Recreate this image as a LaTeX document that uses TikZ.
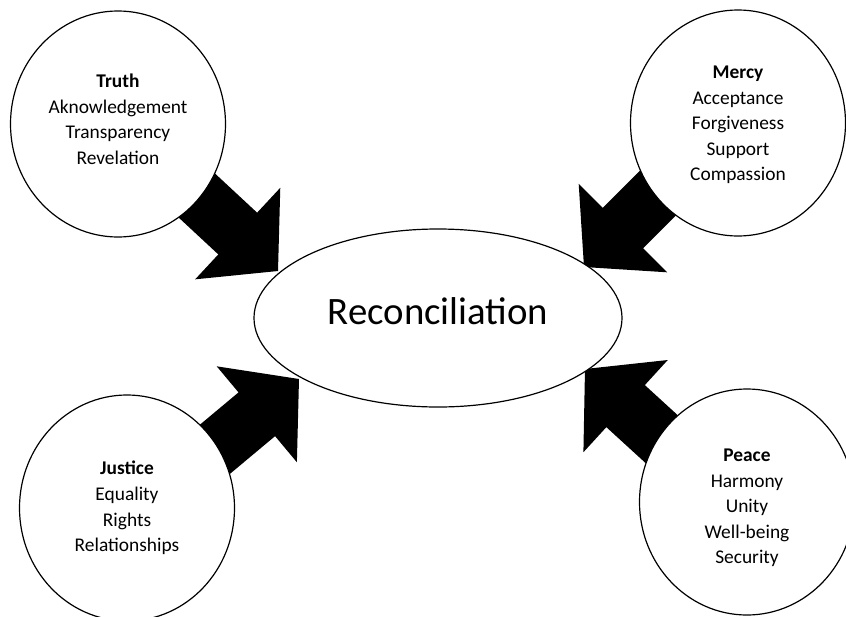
\documentclass[tikz,border=0pt]{standalone}
\usepackage{fontspec}
\setmainfont{Carlito}
\usetikzlibrary{shapes.geometric,arrows.meta,backgrounds}

\begin{document}
\begin{tikzpicture}[x=1pt, y=-1pt,
    pillar/.style={draw, ellipse, fill=white, line width=1.2pt,
      minimum width=215pt, minimum height=226pt, inner sep=0pt,
      align=center, font=\fontsize{19.4}{25.6}\selectfont},
    push/.style={line width=57pt, line cap=rect,
      -{Triangle[length=55pt, width=125pt, line width=0pt]}}]

    \useasboundingbox (0,0) rectangle (846,616);
    \clip (0,0) rectangle (846,616);

    % the four circles and the goal in the middle
    \node [draw, ellipse, fill=white, line width=1.2pt, inner sep=0pt,
      minimum width=368pt, minimum height=178pt, text depth=14pt,
      font=\fontsize{38.8}{40}\selectfont] (recon) at (438,318) {Reconciliation};

    \node [pillar] (truth) at (118,124)
      {\textbf{Truth}\\Aknowledgement\\Transparency\\Revelation\rule[-10pt]{0pt}{10pt}};
    \node [pillar] (mercy) at (738,123)
      {\rule{0pt}{16.5pt}\textbf{Mercy}\\Acceptance\\Forgiveness\\Support\\Compassion};
    \node [pillar] (justice) at (127,508)
      {\textbf{Justice}\\Equality\\Rights\\Relationships};
    \node [pillar] (peace) at (747,502)
      {\rule{0pt}{24.5pt}\textbf{Peace}\\Harmony\\Unity\\Well-being\\Security};

    % block arrows, tails hidden under the circles
    \coordinate (truthTail) at (150,152);
    \coordinate (truthTip) at (278,271);
    \coordinate (mercyTail) at (708,143);
    \coordinate (mercyTip) at (584,267);
    \coordinate (justiceTail) at (165,491);
    \coordinate (justiceTip) at (299,379);
    \coordinate (peaceTail) at (714,487);
    \coordinate (peaceTip) at (585,369);

    \begin{pgfonlayer}{background}
      \draw [push] (truthTail) -- (truthTip);
      \draw [push] (mercyTail) -- (mercyTip);
      \draw [push] (justiceTail) -- (justiceTip);
      \draw [push] (peaceTail) -- (peaceTip);
    \end{pgfonlayer}
\end{tikzpicture}
\end{document}
